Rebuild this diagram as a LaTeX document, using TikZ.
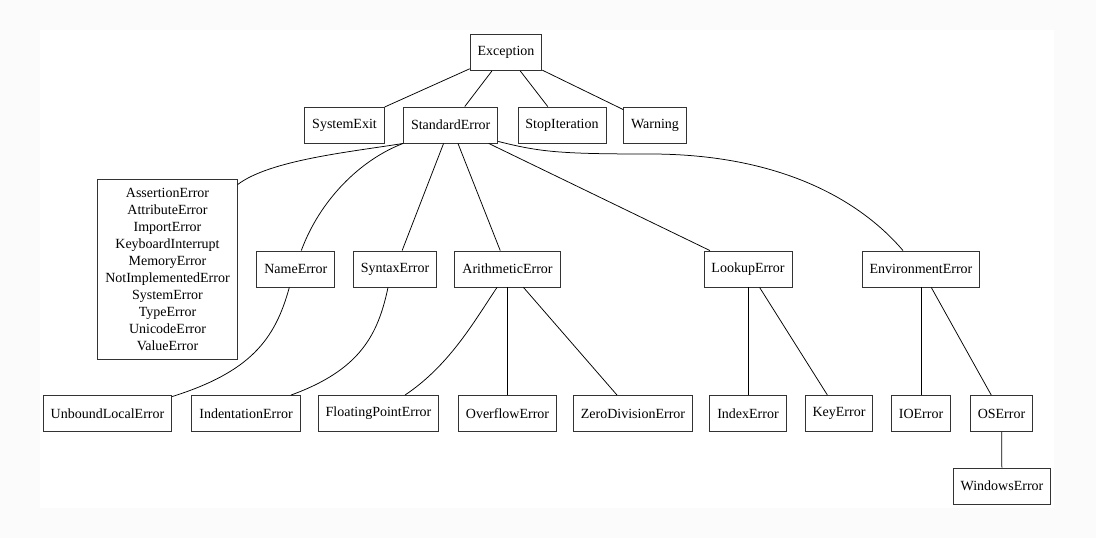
\documentclass[tikz,border=0pt]{standalone}
\usepackage{fontspec}
\setmainfont{Liberation Serif}
\definecolor{outerbg}{HTML}{FBFBFB}
\begin{document}
\begin{tikzpicture}[x=1pt,y=-1pt,
  box/.style={draw=black!80, line width=0.9pt, minimum height=36pt, inner xsep=7.5pt, inner ysep=3pt,
              font=\fontsize{14}{17}\selectfont, text=black},
  edge/.style={draw=black, line width=0.75pt}]
\useasboundingbox (0,0) rectangle (1096,538);
\fill[outerbg] (0,0) rectangle (1096,538);
\fill[white] (40,30) rectangle (1054,508);

% row 1
\node[box] (exc) at (506,52.5) {Exception};
% row 2
\node[box] (sysexit) at (344.5,125) {SystemExit};
\node[box] (stderr) at (450.7,125) {StandardError};
\node[box] (stopit) at (562,125) {StopIteration};
\node[box] (warn) at (655,125) {Warning};
% row 3
\node[box, minimum width=139pt, minimum height=180pt, align=center] (misc) at (167.5,269)
  {AssertionError\\AttributeError\\ImportError\\KeyboardInterrupt\\MemoryError\\NotImplementedError\\SystemError\\TypeError\\UnicodeError\\ValueError};
\node[box] (name) at (295.8,269) {NameError};
\node[box] (syntax) at (395,269) {SyntaxError};
\node[box] (arith) at (507.5,269) {ArithmeticError};
\node[box] (lookup) at (748,269) {LookupError};
\node[box] (env) at (921,269) {EnvironmentError};
% row 4
\node[box] (unbound) at (107.5,413.5) {UnboundLocalError};
\node[box] (indent) at (246,413.5) {IndentationError};
\node[box] (float) at (378.5,413.5) {FloatingPointError};
\node[box] (overflow) at (507.5,413.5) {OverflowError};
\node[box] (zerodiv) at (633,413.5) {ZeroDivisionError};
\node[box] (index) at (748,413.5) {IndexError};
\node[box] (key) at (839,413.5) {KeyError};
\node[box] (ioerr) at (921,413.5) {IOError};
\node[box] (oserr) at (1001.5,413.5) {OSError};
% row 5
\node[box] (win) at (1002,486) {WindowsError};

% edges from Exception
\draw[edge] (exc) -- (sysexit);
\draw[edge] (exc) -- (stderr);
\draw[edge] (exc) -- (stopit);
\draw[edge] (exc) -- (warn);

% edges from StandardError
\draw[edge] (stderr.south west) .. controls (350,152) and (270,160) .. ([yshift=-6pt]misc.north east);
\draw[edge] (stderr.south west) .. controls (360,160) and (320,200) .. ([xshift=5.5pt]name.north);
\draw[edge] (stderr) -- (syntax);
\draw[edge] (stderr) -- (arith);
\draw[edge] (stderr) -- (lookup);
\draw[edge] ([yshift=2pt]stderr.south east) .. controls (540,152) and (560,154) .. (650,154)
  .. controls (780,154) and (860,200) .. ([xshift=-18pt]env.north);

% row 3 to row 4
\draw[edge] ([xshift=-6.5pt]name.south) .. controls (275,340) and (250,372) .. ([yshift=-1.5pt]unbound.north east);
\draw[edge] ([xshift=-7pt]syntax.south) .. controls (378,335) and (360,370) .. ([xshift=45pt]indent.north);
\draw[edge] ([xshift=-10.5pt]arith.south) .. controls (475,320) and (450,365) .. ([xshift=26.5pt]float.north);
\draw[edge] (arith) -- (overflow);
\draw[edge] (arith) -- (zerodiv);
\draw[edge] (lookup) -- (index);
\draw[edge] (lookup) -- (key);
\draw[edge] (env) -- (ioerr);
\draw[edge] (env) -- (oserr);
\draw[edge] (oserr) -- (win);
\end{tikzpicture}
\end{document}
